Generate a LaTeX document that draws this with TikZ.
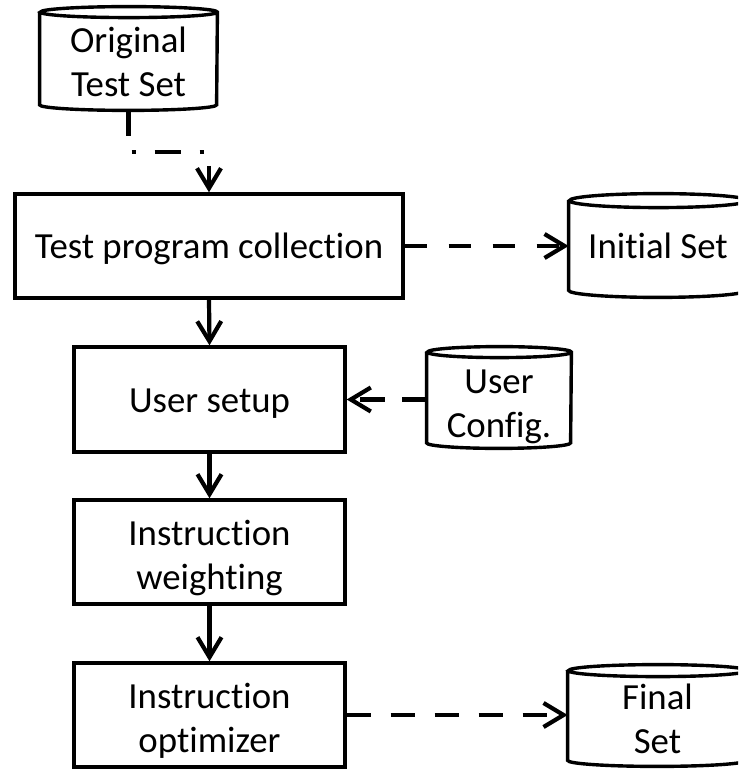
\documentclass[tikz,border=0pt]{standalone}
\usepackage{fontspec}
\setmainfont{Carlito}[Ligatures=NoCommon]
\usetikzlibrary{arrows.meta}

\tikzset{
  stage/.style={draw, line width=1.7pt, minimum width=135.5pt, minimum height=52.5pt,
    inner sep=0pt},
  store/.style={inner sep=0pt},
  link/.style={line width=2.1pt,
    -{Straight Barb[length=10pt,width=12pt,line width=2.1pt]}},
}

% centred lines of text, lowered by the given amount while keeping their size
\newcommand\lines[2][2pt]{\raisebox{-#1}[\height][\depth]{\begin{tabular}{@{}c@{}}#2\end{tabular}}}

% outline of a data store drawn round a node: name, x radius, y radius
\newcommand\drumoutline[3]{%
  \draw[line width=1.7pt]
    ([yshift=-#3]#1.north west) -- ([yshift=#3]#1.south west)
    arc[start angle=180, end angle=360, x radius=#2, y radius=#3]
    -- ([yshift=-#3]#1.north east)
    arc[start angle=0, end angle=180, x radius=#2, y radius=#3]
    arc[start angle=180, end angle=360, x radius=#2, y radius=#3];}

\begin{document}
\begin{tikzpicture}[x=0.5pt, y=0.5pt, font=\fontsize{18.4}{22}\selectfont]
\useasboundingbox (0,0) rectangle (738,-769);
\clip (0,0) rectangle (738,-769);

% processing stages
\node[stage, minimum width=194pt, minimum height=52pt] (collect) at (209,-246) {\lines{Test program collection}};
\node[stage] (setup) at (209.5,-399.5) {\lines{User setup}};
\node[stage, minimum height=52pt] (weight) at (209.5,-552) {\lines[3.2pt]{Instruction\\weighting}};
\node[stage, minimum height=52pt] (optim) at (209.5,-715) {\lines[3.2pt]{Instruction\\optimizer}};

% data stores
\node[store, minimum width=88.5pt, minimum height=51.5pt] (orig) at (128.5,-58.5) {\lines[3.5pt]{Original\\Test Set}};
\node[store, minimum width=89pt, minimum height=51.5pt] (init) at (658,-245.5) {\lines[2.3pt]{Initial Set}};
\node[store, minimum width=72pt, minimum height=50.5pt] (ucfg) at (499,-397.5) {\lines[4.8pt]{User\\Config.}};
\node[store, minimum width=89.5pt, minimum height=50.5pt] (final) at (657.5,-715.5) {\lines[3.7pt]{Final\\Set}};

\drumoutline{orig}{44.25pt}{2.75pt}
\drumoutline{init}{44.5pt}{3.5pt}
\drumoutline{ucfg}{36pt}{2.75pt}
\drumoutline{final}{44.75pt}{3pt}

% main flow
\draw[link] (collect.south) -- (setup.north);
\draw[link] (setup.south) -- (weight.north);
\draw[link] (weight.south) -- (optim.north);

% data connections
\draw[link, dash pattern=on 13pt off 9.5pt on 2pt off 9.5pt]
  (orig.south) -- ++(0,-42) -| (collect.north);
\draw[link, dash pattern=on 11pt off 11pt] (collect.east) -- (init.west |- collect.east);
\draw[link, dash pattern=on 12.5pt off 8.5pt] (ucfg.west |- setup.east) -- (setup.east);
\draw[link, dash pattern=on 12pt off 10pt] (optim.east) -- (final.west |- optim.east);
\end{tikzpicture}
\end{document}
